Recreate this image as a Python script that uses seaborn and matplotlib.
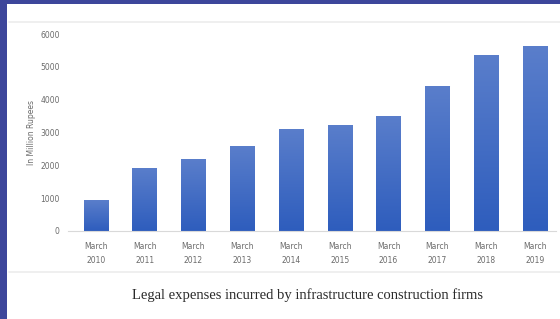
import numpy as np
import pandas as pd
import matplotlib
matplotlib.use("Agg")
import matplotlib.pyplot as plt
import seaborn as sns
from matplotlib.patches import Rectangle
from matplotlib.lines import Line2D
from matplotlib.colors import LinearSegmentedColormap

years = ["2010", "2011", "2012", "2013", "2014", "2015", "2016", "2017", "2018", "2019"]
categories = ["March\n" + y for y in years]
values = [930, 1920, 2190, 2600, 3110, 3240, 3510, 4420, 5370, 5620]
yticks = [0, 1000, 2000, 3000, 4000, 5000, 6000]
title = "Legal expenses incurred by infrastructure construction firms"
ylabel = "In Million Rupees"

df = pd.DataFrame({"cat": categories, "val": values})

sns.set_style("white")
fig = plt.figure(figsize=(5.6, 3.19), dpi=100)
fig.patch.set_facecolor("#3d469b")
fig.patches.append(Rectangle((7/560, 0), 1, 1 - 4/319, transform=fig.transFigure,
                             facecolor="white", edgecolor="none", zorder=-10))
for yy in (22, 272):
    fig.lines.append(Line2D([9/560, 1], [1 - yy/319, 1 - yy/319], transform=fig.transFigure,
                            color="#ececec", lw=1.2))

ax = fig.add_axes([68/560, 1 - 231/319, (556-68)/560, (231-34)/319])
ax.set_facecolor("none")
sns.barplot(data=df, x="cat", y="val", color="#4472c4", width=0.5, ax=ax, saturation=1)

cmap = LinearSegmentedColormap.from_list("g", ["#2e5dbd", "#5a7ecb"])
grad = np.linspace(0, 1, 256).reshape(-1, 1)
for p in ax.patches:
    x0, y0 = p.get_x(), p.get_y()
    w, h = p.get_width(), p.get_height()
    im = ax.imshow(grad, extent=[x0, x0 + w, y0, y0 + h], origin="lower",
                   cmap=cmap, aspect="auto", zorder=p.get_zorder() + 0.1)
    im.set_clip_path(p)

ax.set_xlim(-0.57, 9.43)
ax.set_ylim(0, 6000)
ax.set_yticks(yticks)
ax.set_yticklabels([str(t) for t in yticks])
ax.tick_params(axis="both", length=0, labelsize=5.5, labelcolor="#6b6b6b")
ax.tick_params(axis="y", pad=6)
ax.tick_params(axis="x", pad=8)
for lbl in ax.get_xticklabels():
    lbl.set_linespacing(1.75)
for s in ["top", "right", "left"]:
    ax.spines[s].set_visible(False)
ax.spines["bottom"].set_color("#d9d9d9")
ax.spines["bottom"].set_linewidth(0.8)
ax.set_xlabel("")
ax.set_ylabel(ylabel, fontsize=5.5, color="#6b6b6b", labelpad=3)

fig.text(307/560, 1 - 295/319, title, ha="center", va="center",
         fontsize=10.5, family="Liberation Serif", color="#2a2a2a")

fig.savefig("out.png", dpi=100, facecolor=fig.get_facecolor())
